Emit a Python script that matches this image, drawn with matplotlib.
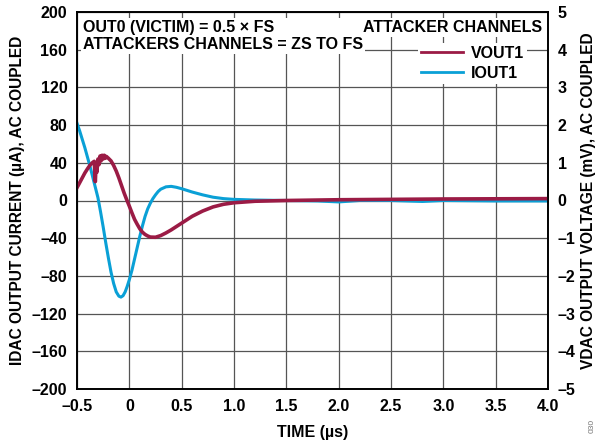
import matplotlib
matplotlib.use('Agg')
import matplotlib.pyplot as plt
import numpy as np

plt.rcParams['font.family'] = ['Liberation Sans', 'DejaVu Sans']
plt.rcParams['font.weight'] = 'bold'

# IOUT1 (uA)
iout_t = [-0.5, -0.475, -0.45, -0.425, -0.40, -0.375, -0.35, -0.325, -0.30, -0.275,
          -0.25, -0.225, -0.20, -0.175, -0.15, -0.125, -0.10, -0.08, -0.06, -0.04,
          -0.02, 0.0, 0.025, 0.05, 0.075, 0.10, 0.125, 0.15, 0.175, 0.20, 0.225,
          0.25, 0.275, 0.30, 0.35, 0.40, 0.45, 0.50, 0.60, 0.70, 0.80, 0.90, 1.0,
          1.2, 1.5, 1.8, 2.0, 2.2, 2.5, 2.8, 3.0, 3.5, 4.0]
iout_v = [82, 74, 65, 56, 46, 36, 25, 14, 3, -12,
          -28, -45, -61, -76, -88, -97, -101.5, -102.5, -101, -97,
          -91, -84, -74, -62, -50, -38, -27, -17, -9, -3, 2,
          6, 9.5, 12, 14.5, 15, 14, 12.5, 9, 6, 3.5, 2, 1.2,
          0.5, 0, -0.5, -1.5, 0, 0, -1, 0, -0.5, -0.5]

# VOUT1 (mV)
vout_t = [-0.5, -0.475, -0.45, -0.425, -0.40, -0.375, -0.35, -0.335, -0.325, -0.318,
          -0.31, -0.30, -0.29, -0.28, -0.27, -0.26, -0.25, -0.24, -0.23, -0.22,
          -0.20, -0.175, -0.15, -0.125, -0.10, -0.075, -0.05, -0.025, 0.0, 0.025,
          0.05, 0.075, 0.10, 0.125, 0.15, 0.175, 0.20, 0.25, 0.30, 0.35, 0.40,
          0.45, 0.50, 0.60, 0.70, 0.80, 0.90, 1.0, 1.2, 1.5, 2.0, 3.0, 4.0]
vout_v = [0.34, 0.47, 0.6, 0.73, 0.84, 0.94, 1.01, 1.04, 0.5, 0.95,
          0.75, 1.1, 0.95, 1.18, 1.05, 1.2, 1.1, 1.2, 1.12, 1.17,
          1.12, 1.05, 0.93, 0.78, 0.6, 0.4, 0.2, 0.02, -0.15, -0.33,
          -0.5, -0.63, -0.75, -0.84, -0.9, -0.94, -0.97, -0.975, -0.93, -0.86, -0.78,
          -0.69, -0.6, -0.42, -0.28, -0.17, -0.1, -0.06, -0.02, 0.0, 0.02, 0.04, 0.05]

xticks = [-0.5, 0, 0.5, 1.0, 1.5, 2.0, 2.5, 3.0, 3.5, 4.0]
xlabels = ['–0.5', '0', '0.5', '1.0', '1.5', '2.0', '2.5', '3.0', '3.5', '4.0']
lticks = list(range(-200, 201, 40))
rticks = list(range(-5, 6))

red = '#9b1b45'
blue = '#0aa0d6'

fig = plt.figure(figsize=(5.99, 4.46), dpi=100)
ax = fig.add_axes([77 / 599, 57 / 446, (548 - 77) / 599, (389 - 12) / 446])
ax2 = ax.twinx()

ax.plot(iout_t, iout_v, color=blue, lw=2.2, label='IOUT1', solid_joinstyle='round')
ax2.plot(vout_t, vout_v, color=red, lw=2.6, label='VOUT1', solid_joinstyle='round')

ax.set_xlim(-0.5, 4.0)
ax.set_ylim(-200, 200)
ax2.set_ylim(-5, 5)
ax.set_xticks(xticks)
ax.set_xticklabels(xlabels)
ax.set_yticks(lticks)
ax.set_yticklabels([str(v).replace('-', '–') for v in lticks])
ax2.set_yticks(rticks)
ax2.set_yticklabels([str(v).replace('-', '–') for v in rticks])

ax.grid(True, color='#555555', lw=0.9)
ax.set_axisbelow(True)
ax.tick_params(axis='both', length=0, labelsize=11.5)
ax.tick_params(axis='x', pad=7)
ax.tick_params(axis='y', pad=7)
ax2.tick_params(axis='y', length=0, labelsize=11.5, pad=7)
for a in (ax, ax2):
    for s in a.spines.values():
        s.set_linewidth(1.2)

ax.set_xlabel('TIME (µs)', fontsize=11.5, fontweight='bold', labelpad=8)
ax.set_ylabel('IDAC OUTPUT CURRENT (µA), AC COUPLED', fontsize=11.2, fontweight='bold', labelpad=5)
ax2.set_ylabel('VDAC OUTPUT VOLTAGE (mV), AC COUPLED', fontsize=11.2, fontweight='bold', labelpad=4)

wb = dict(facecolor='white', edgecolor='none', pad=1.5)
ax2.text(0.012, 0.978, 'OUT0 (VICTIM) = 0.5 × FS\nATTACKERS CHANNELS = ZS TO FS',
         transform=ax2.transAxes, ha='left', va='top', fontsize=11.5, fontweight='bold',
         linespacing=1.15, bbox=wb, zorder=5)
ax2.text(0.988, 0.978, 'ATTACKER CHANNELS', transform=ax2.transAxes, ha='right', va='top',
         fontsize=11.5, fontweight='bold', bbox=wb, zorder=5)

h1, l1 = ax2.get_legend_handles_labels()
h2, l2 = ax.get_legend_handles_labels()
leg = ax2.legend(h1 + h2, l1 + l2, loc='upper right', bbox_to_anchor=(0.973, 0.94),
                 frameon=True, framealpha=1, edgecolor='none', facecolor='white',
                 prop={'size': 11.5, 'weight': 'bold'}, handlelength=2.6, handletextpad=0.5,
                 borderpad=0.2, labelspacing=0.3, fancybox=False)
for line in leg.get_lines():
    line.set_linewidth(2)

fig.text(0.988, 0.045, '030', rotation=90, fontsize=6, color='#777777', fontweight='normal',
         ha='center', va='center')

fig.savefig('out.png', dpi=100)
